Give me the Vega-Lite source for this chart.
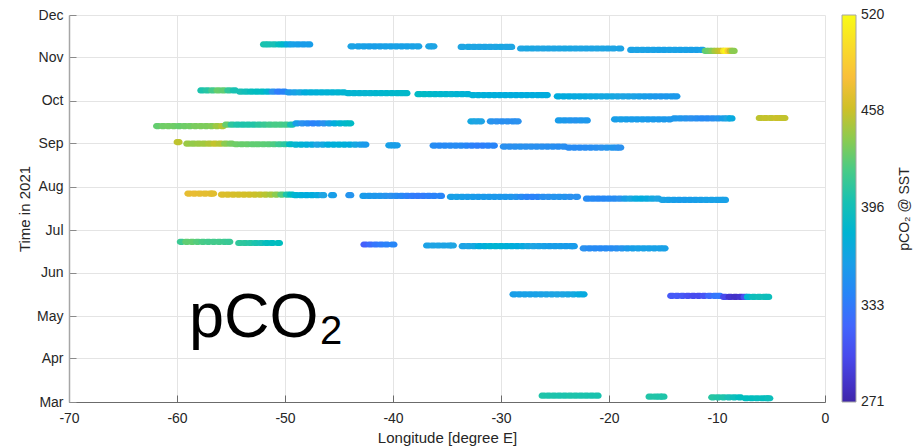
{
  "$schema": "https://vega.github.io/schema/vega-lite/v6.json",
  "width": 756,
  "height": 387,
  "autosize": {"type": "none"},
  "padding": {"left": 69, "top": 15, "right": 89, "bottom": 46},
  "config": {
    "view": {"stroke": null},
    "font": "Liberation Sans",
    "axis": {
      "labelFont": "Liberation Sans", "labelFontSize": 14, "labelColor": "#262626",
      "titleFont": "Liberation Sans", "titleFontSize": 15, "titleFontWeight": "normal", "titleColor": "#262626",
      "gridColor": "#e4e4e4", "gridWidth": 1
    },
    "legend": {"labelFont": "Liberation Sans", "titleFont": "Liberation Sans"}
  },
  "layer": [
    {
      "data": {"values": [
        {"lon":-51.9,"t":"2021-11-10T02:00","pco2":402},{"lon":-51.5,"t":"2021-11-10T02:00","pco2":400},{"lon":-51.0,"t":"2021-11-10T02:00","pco2":398},{"lon":-50.5,"t":"2021-11-10T02:00","pco2":394},{"lon":-50.1,"t":"2021-11-10T02:00","pco2":385},{"lon":-49.7,"t":"2021-11-10T02:00","pco2":370},{"lon":-49.3,"t":"2021-11-10T02:00","pco2":362},{"lon":-48.8,"t":"2021-11-10T02:00","pco2":360},{"lon":-48.3,"t":"2021-11-10T02:00","pco2":358},{"lon":-47.8,"t":"2021-11-10T02:00","pco2":359},
        {"lon":-43.8,"t":"2021-11-08T17:00","pco2":364},{"lon":-43.2,"t":"2021-11-08T17:00","pco2":362},{"lon":-42.7,"t":"2021-11-08T17:00","pco2":362},{"lon":-42.2,"t":"2021-11-08T17:00","pco2":361},{"lon":-41.7,"t":"2021-11-08T17:00","pco2":360},{"lon":-41.2,"t":"2021-11-08T17:00","pco2":361},{"lon":-40.7,"t":"2021-11-08T17:00","pco2":362},{"lon":-40.2,"t":"2021-11-08T17:00","pco2":362},{"lon":-39.7,"t":"2021-11-08T17:00","pco2":363},{"lon":-39.2,"t":"2021-11-08T17:00","pco2":362},{"lon":-38.7,"t":"2021-11-08T17:00","pco2":362},{"lon":-38.2,"t":"2021-11-08T17:00","pco2":363},{"lon":-37.7,"t":"2021-11-08T17:00","pco2":364},
        {"lon":-36.6,"t":"2021-11-08T17:00","pco2":365},{"lon":-36.3,"t":"2021-11-08T17:00","pco2":365},
        {"lon":-33.6,"t":"2021-11-08T07:00","pco2":366},{"lon":-33.0,"t":"2021-11-08T07:00","pco2":367},{"lon":-32.5,"t":"2021-11-08T07:00","pco2":366},{"lon":-32.0,"t":"2021-11-08T07:00","pco2":366},{"lon":-31.5,"t":"2021-11-08T07:00","pco2":365},{"lon":-31.0,"t":"2021-11-08T07:00","pco2":366},{"lon":-30.5,"t":"2021-11-08T07:00","pco2":366},{"lon":-30.0,"t":"2021-11-08T07:00","pco2":367},{"lon":-29.5,"t":"2021-11-08T07:00","pco2":366},{"lon":-29.1,"t":"2021-11-08T07:00","pco2":366},
        {"lon":-28.1,"t":"2021-11-07T05:00","pco2":366},{"lon":-27.6,"t":"2021-11-07T05:00","pco2":367},{"lon":-27.1,"t":"2021-11-07T05:00","pco2":367},{"lon":-26.6,"t":"2021-11-07T05:00","pco2":366},{"lon":-26.1,"t":"2021-11-07T05:00","pco2":366},{"lon":-25.6,"t":"2021-11-07T05:00","pco2":365},{"lon":-25.1,"t":"2021-11-07T05:00","pco2":366},{"lon":-24.6,"t":"2021-11-07T05:00","pco2":366},{"lon":-24.1,"t":"2021-11-07T05:00","pco2":367},{"lon":-23.6,"t":"2021-11-07T05:00","pco2":367},{"lon":-23.1,"t":"2021-11-07T05:00","pco2":366},{"lon":-22.6,"t":"2021-11-07T05:00","pco2":366},{"lon":-22.1,"t":"2021-11-07T05:00","pco2":365},{"lon":-21.6,"t":"2021-11-07T05:00","pco2":365},{"lon":-21.1,"t":"2021-11-07T05:00","pco2":366},{"lon":-20.6,"t":"2021-11-07T05:00","pco2":366},{"lon":-20.1,"t":"2021-11-07T05:00","pco2":365},{"lon":-19.6,"t":"2021-11-07T05:00","pco2":365},{"lon":-19.0,"t":"2021-11-07T05:00","pco2":364},
        {"lon":-17.9,"t":"2021-11-06T05:00","pco2":363},{"lon":-17.4,"t":"2021-11-06T05:00","pco2":364},{"lon":-16.9,"t":"2021-11-06T05:00","pco2":364},{"lon":-16.4,"t":"2021-11-06T05:00","pco2":363},{"lon":-15.9,"t":"2021-11-06T05:00","pco2":363},{"lon":-15.4,"t":"2021-11-06T05:00","pco2":362},{"lon":-14.9,"t":"2021-11-06T05:00","pco2":362},{"lon":-14.4,"t":"2021-11-06T05:00","pco2":363},{"lon":-13.9,"t":"2021-11-06T05:00","pco2":363},{"lon":-13.4,"t":"2021-11-06T05:00","pco2":362},{"lon":-12.9,"t":"2021-11-06T05:00","pco2":362},{"lon":-12.4,"t":"2021-11-06T05:00","pco2":361},{"lon":-11.9,"t":"2021-11-06T05:00","pco2":361},{"lon":-11.4,"t":"2021-11-06T05:00","pco2":362},
        {"lon":-11.0,"t":"2021-11-05T12:00","pco2":428},{"lon":-10.7,"t":"2021-11-05T12:00","pco2":432},{"lon":-10.4,"t":"2021-11-05T12:00","pco2":438},{"lon":-10.1,"t":"2021-11-05T12:00","pco2":448},{"lon":-9.8,"t":"2021-11-05T12:00","pco2":455},{"lon":-9.5,"t":"2021-11-05T12:00","pco2":462},{"lon":-9.3,"t":"2021-11-05T12:00","pco2":505},{"lon":-9.1,"t":"2021-11-05T12:00","pco2":518},{"lon":-8.9,"t":"2021-11-05T12:00","pco2":490},{"lon":-8.7,"t":"2021-11-05T12:00","pco2":460},{"lon":-8.5,"t":"2021-11-05T12:00","pco2":440},

        {"lon":-57.7,"t":"2021-10-08T10:00","pco2":403},{"lon":-57.2,"t":"2021-10-08T10:00","pco2":408},{"lon":-56.7,"t":"2021-10-08T10:00","pco2":418},{"lon":-56.2,"t":"2021-10-08T10:00","pco2":430},{"lon":-55.7,"t":"2021-10-08T10:00","pco2":428},{"lon":-55.2,"t":"2021-10-08T10:00","pco2":412},{"lon":-54.7,"t":"2021-10-08T10:00","pco2":400},
        {"lon":-54.1,"t":"2021-10-07T12:00","pco2":398},{"lon":-53.6,"t":"2021-10-07T12:00","pco2":396},{"lon":-53.1,"t":"2021-10-07T12:00","pco2":394},{"lon":-52.6,"t":"2021-10-07T12:00","pco2":392},{"lon":-52.1,"t":"2021-10-07T12:00","pco2":390},{"lon":-51.6,"t":"2021-10-07T12:00","pco2":380},{"lon":-51.1,"t":"2021-10-07T12:00","pco2":350},{"lon":-50.6,"t":"2021-10-07T12:00","pco2":335},{"lon":-50.1,"t":"2021-10-07T12:00","pco2":340},
        {"lon":-49.6,"t":"2021-10-07T00:00","pco2":355},{"lon":-49.1,"t":"2021-10-07T00:00","pco2":362},{"lon":-48.6,"t":"2021-10-07T00:00","pco2":368},{"lon":-48.1,"t":"2021-10-07T00:00","pco2":372},{"lon":-47.6,"t":"2021-10-07T00:00","pco2":375},{"lon":-47.1,"t":"2021-10-07T00:00","pco2":376},{"lon":-46.6,"t":"2021-10-07T00:00","pco2":377},{"lon":-46.1,"t":"2021-10-07T00:00","pco2":378},{"lon":-45.6,"t":"2021-10-07T00:00","pco2":378},{"lon":-45.1,"t":"2021-10-07T00:00","pco2":380},{"lon":-44.6,"t":"2021-10-07T00:00","pco2":380},
        {"lon":-44.1,"t":"2021-10-06T10:00","pco2":380},{"lon":-43.6,"t":"2021-10-06T10:00","pco2":381},{"lon":-43.1,"t":"2021-10-06T10:00","pco2":381},{"lon":-42.6,"t":"2021-10-06T10:00","pco2":382},{"lon":-42.1,"t":"2021-10-06T10:00","pco2":382},{"lon":-41.6,"t":"2021-10-06T10:00","pco2":383},{"lon":-41.1,"t":"2021-10-06T10:00","pco2":383},{"lon":-40.6,"t":"2021-10-06T10:00","pco2":384},{"lon":-40.1,"t":"2021-10-06T10:00","pco2":385},{"lon":-39.6,"t":"2021-10-06T10:00","pco2":385},{"lon":-39.2,"t":"2021-10-06T10:00","pco2":386},{"lon":-38.8,"t":"2021-10-06T10:00","pco2":386},
        {"lon":-37.6,"t":"2021-10-05T18:00","pco2":389},{"lon":-37.1,"t":"2021-10-05T18:00","pco2":389},{"lon":-36.6,"t":"2021-10-05T18:00","pco2":387},{"lon":-36.1,"t":"2021-10-05T18:00","pco2":385},{"lon":-35.6,"t":"2021-10-05T18:00","pco2":384},{"lon":-35.1,"t":"2021-10-05T18:00","pco2":383},{"lon":-34.6,"t":"2021-10-05T18:00","pco2":382},{"lon":-34.1,"t":"2021-10-05T18:00","pco2":380},{"lon":-33.6,"t":"2021-10-05T18:00","pco2":379},{"lon":-33.1,"t":"2021-10-05T18:00","pco2":378},
        {"lon":-32.6,"t":"2021-10-05T02:00","pco2":377},{"lon":-32.1,"t":"2021-10-05T02:00","pco2":376},{"lon":-31.6,"t":"2021-10-05T02:00","pco2":375},{"lon":-31.1,"t":"2021-10-05T02:00","pco2":374},{"lon":-30.6,"t":"2021-10-05T02:00","pco2":374},{"lon":-30.1,"t":"2021-10-05T02:00","pco2":373},{"lon":-29.6,"t":"2021-10-05T02:00","pco2":373},{"lon":-29.1,"t":"2021-10-05T02:00","pco2":373},{"lon":-28.6,"t":"2021-10-05T02:00","pco2":372},{"lon":-28.1,"t":"2021-10-05T02:00","pco2":372},{"lon":-27.6,"t":"2021-10-05T02:00","pco2":372},{"lon":-27.1,"t":"2021-10-05T02:00","pco2":372},{"lon":-26.6,"t":"2021-10-05T02:00","pco2":372},{"lon":-26.2,"t":"2021-10-05T02:00","pco2":372},{"lon":-25.8,"t":"2021-10-05T02:00","pco2":372},
        {"lon":-24.7,"t":"2021-10-04T05:00","pco2":372},{"lon":-24.2,"t":"2021-10-04T05:00","pco2":371},{"lon":-23.7,"t":"2021-10-04T05:00","pco2":371},{"lon":-23.2,"t":"2021-10-04T05:00","pco2":370},{"lon":-22.7,"t":"2021-10-04T05:00","pco2":370},{"lon":-22.2,"t":"2021-10-04T05:00","pco2":370},{"lon":-21.7,"t":"2021-10-04T05:00","pco2":369},{"lon":-21.2,"t":"2021-10-04T05:00","pco2":369},{"lon":-20.7,"t":"2021-10-04T05:00","pco2":368},{"lon":-20.2,"t":"2021-10-04T05:00","pco2":368},{"lon":-19.7,"t":"2021-10-04T05:00","pco2":368},{"lon":-19.2,"t":"2021-10-04T05:00","pco2":367},{"lon":-18.7,"t":"2021-10-04T05:00","pco2":366},{"lon":-18.2,"t":"2021-10-04T05:00","pco2":365},{"lon":-17.7,"t":"2021-10-04T05:00","pco2":364},{"lon":-17.2,"t":"2021-10-04T05:00","pco2":362},{"lon":-16.7,"t":"2021-10-04T05:00","pco2":360},{"lon":-16.2,"t":"2021-10-04T05:00","pco2":358},{"lon":-15.7,"t":"2021-10-04T05:00","pco2":356},{"lon":-15.2,"t":"2021-10-04T05:00","pco2":355},{"lon":-14.7,"t":"2021-10-04T05:00","pco2":355},{"lon":-14.2,"t":"2021-10-04T05:00","pco2":356},{"lon":-13.8,"t":"2021-10-04T05:00","pco2":356},

        {"lon":-61.8,"t":"2021-09-13T02:00","pco2":429},{"lon":-61.3,"t":"2021-09-13T02:00","pco2":432},{"lon":-60.8,"t":"2021-09-13T02:00","pco2":433},{"lon":-60.3,"t":"2021-09-13T02:00","pco2":432},{"lon":-59.8,"t":"2021-09-13T02:00","pco2":430},{"lon":-59.3,"t":"2021-09-13T02:00","pco2":432},{"lon":-58.8,"t":"2021-09-13T02:00","pco2":433},{"lon":-58.3,"t":"2021-09-13T02:00","pco2":435},{"lon":-57.8,"t":"2021-09-13T02:00","pco2":436},{"lon":-57.3,"t":"2021-09-13T02:00","pco2":436},{"lon":-56.8,"t":"2021-09-13T02:00","pco2":438},{"lon":-56.3,"t":"2021-09-13T02:00","pco2":445},{"lon":-55.8,"t":"2021-09-13T02:00","pco2":452},
        {"lon":-55.4,"t":"2021-09-14T02:00","pco2":430},{"lon":-54.9,"t":"2021-09-14T02:00","pco2":410},{"lon":-54.4,"t":"2021-09-14T02:00","pco2":405},{"lon":-53.9,"t":"2021-09-14T02:00","pco2":404},{"lon":-53.4,"t":"2021-09-14T02:00","pco2":405},{"lon":-52.9,"t":"2021-09-14T02:00","pco2":406},{"lon":-52.4,"t":"2021-09-14T02:00","pco2":410},{"lon":-51.9,"t":"2021-09-14T02:00","pco2":414},{"lon":-51.4,"t":"2021-09-14T02:00","pco2":418},{"lon":-50.9,"t":"2021-09-14T02:00","pco2":420},{"lon":-50.4,"t":"2021-09-14T02:00","pco2":420},{"lon":-49.9,"t":"2021-09-14T02:00","pco2":418},{"lon":-49.4,"t":"2021-09-14T02:00","pco2":400},
        {"lon":-48.9,"t":"2021-09-15T00:00","pco2":360},{"lon":-48.4,"t":"2021-09-15T00:00","pco2":350},{"lon":-47.9,"t":"2021-09-15T00:00","pco2":345},{"lon":-47.4,"t":"2021-09-15T00:00","pco2":338},{"lon":-46.9,"t":"2021-09-15T00:00","pco2":342},{"lon":-46.4,"t":"2021-09-15T00:00","pco2":350},{"lon":-45.9,"t":"2021-09-15T00:00","pco2":360},{"lon":-45.4,"t":"2021-09-15T00:00","pco2":372},{"lon":-44.9,"t":"2021-09-15T00:00","pco2":380},{"lon":-44.4,"t":"2021-09-15T00:00","pco2":385},{"lon":-44.0,"t":"2021-09-15T00:00","pco2":389},
        {"lon":-32.7,"t":"2021-09-16T10:00","pco2":368},{"lon":-32.3,"t":"2021-09-16T10:00","pco2":366},{"lon":-31.9,"t":"2021-09-16T10:00","pco2":365},
        {"lon":-30.9,"t":"2021-09-16T10:00","pco2":352},{"lon":-30.4,"t":"2021-09-16T10:00","pco2":350},{"lon":-29.9,"t":"2021-09-16T10:00","pco2":348},{"lon":-29.4,"t":"2021-09-16T10:00","pco2":349},{"lon":-28.9,"t":"2021-09-16T10:00","pco2":348},{"lon":-28.5,"t":"2021-09-16T10:00","pco2":350},
        {"lon":-24.6,"t":"2021-09-17T02:00","pco2":358},{"lon":-24.1,"t":"2021-09-17T02:00","pco2":356},{"lon":-23.6,"t":"2021-09-17T02:00","pco2":354},{"lon":-23.1,"t":"2021-09-17T02:00","pco2":352},{"lon":-22.6,"t":"2021-09-17T02:00","pco2":354},{"lon":-22.1,"t":"2021-09-17T02:00","pco2":355},
        {"lon":-19.4,"t":"2021-09-17T21:00","pco2":360},{"lon":-18.9,"t":"2021-09-17T21:00","pco2":361},{"lon":-18.4,"t":"2021-09-17T21:00","pco2":360},{"lon":-17.9,"t":"2021-09-17T21:00","pco2":358},{"lon":-17.4,"t":"2021-09-17T21:00","pco2":358},{"lon":-16.9,"t":"2021-09-17T21:00","pco2":358},{"lon":-16.4,"t":"2021-09-17T21:00","pco2":357},{"lon":-15.9,"t":"2021-09-17T21:00","pco2":357},{"lon":-15.4,"t":"2021-09-17T21:00","pco2":356},{"lon":-14.9,"t":"2021-09-17T21:00","pco2":356},{"lon":-14.4,"t":"2021-09-17T21:00","pco2":355},
        {"lon":-13.9,"t":"2021-09-18T12:00","pco2":355},{"lon":-13.4,"t":"2021-09-18T12:00","pco2":354},{"lon":-12.9,"t":"2021-09-18T12:00","pco2":352},{"lon":-12.4,"t":"2021-09-18T12:00","pco2":350},{"lon":-11.9,"t":"2021-09-18T12:00","pco2":348},{"lon":-11.4,"t":"2021-09-18T12:00","pco2":345},{"lon":-10.9,"t":"2021-09-18T12:00","pco2":345},{"lon":-10.4,"t":"2021-09-18T12:00","pco2":348},{"lon":-9.9,"t":"2021-09-18T12:00","pco2":352},{"lon":-9.4,"t":"2021-09-18T12:00","pco2":360},{"lon":-9.0,"t":"2021-09-18T12:00","pco2":366},{"lon":-8.7,"t":"2021-09-18T12:00","pco2":370},
        {"lon":-6.0,"t":"2021-09-18T19:00","pco2":455},{"lon":-5.5,"t":"2021-09-18T19:00","pco2":457},{"lon":-5.0,"t":"2021-09-18T19:00","pco2":456},{"lon":-4.5,"t":"2021-09-18T19:00","pco2":459},{"lon":-4.1,"t":"2021-09-18T19:00","pco2":458},{"lon":-3.8,"t":"2021-09-18T19:00","pco2":456},

        {"lon":-59.9,"t":"2021-09-01T17:00","pco2":455},
        {"lon":-59.0,"t":"2021-08-31T14:00","pco2":444},{"lon":-58.5,"t":"2021-08-31T14:00","pco2":442},{"lon":-58.0,"t":"2021-08-31T14:00","pco2":444},{"lon":-57.5,"t":"2021-08-31T14:00","pco2":446},{"lon":-57.0,"t":"2021-08-31T14:00","pco2":450},{"lon":-56.5,"t":"2021-08-31T14:00","pco2":456},{"lon":-56.0,"t":"2021-08-31T14:00","pco2":452},{"lon":-55.5,"t":"2021-08-31T14:00","pco2":440},{"lon":-55.0,"t":"2021-08-31T14:00","pco2":434},
        {"lon":-54.5,"t":"2021-08-31T04:00","pco2":432},{"lon":-54.0,"t":"2021-08-31T04:00","pco2":430},{"lon":-53.5,"t":"2021-08-31T04:00","pco2":430},{"lon":-53.0,"t":"2021-08-31T04:00","pco2":428},{"lon":-52.5,"t":"2021-08-31T04:00","pco2":428},{"lon":-52.0,"t":"2021-08-31T04:00","pco2":427},{"lon":-51.5,"t":"2021-08-31T04:00","pco2":426},{"lon":-51.0,"t":"2021-08-31T04:00","pco2":422},{"lon":-50.5,"t":"2021-08-31T04:00","pco2":415},{"lon":-50.0,"t":"2021-08-31T04:00","pco2":410},{"lon":-49.5,"t":"2021-08-31T04:00","pco2":390},
        {"lon":-49.0,"t":"2021-08-30T22:00","pco2":382},{"lon":-48.5,"t":"2021-08-30T22:00","pco2":378},{"lon":-48.0,"t":"2021-08-30T22:00","pco2":375},{"lon":-47.5,"t":"2021-08-30T22:00","pco2":370},{"lon":-47.0,"t":"2021-08-30T22:00","pco2":366},{"lon":-46.5,"t":"2021-08-30T22:00","pco2":368},{"lon":-46.0,"t":"2021-08-30T22:00","pco2":372},{"lon":-45.5,"t":"2021-08-30T22:00","pco2":375},{"lon":-45.0,"t":"2021-08-30T22:00","pco2":376},{"lon":-44.5,"t":"2021-08-30T22:00","pco2":375},{"lon":-44.0,"t":"2021-08-30T22:00","pco2":372},{"lon":-43.5,"t":"2021-08-30T22:00","pco2":368},{"lon":-43.0,"t":"2021-08-30T22:00","pco2":362},{"lon":-42.6,"t":"2021-08-30T22:00","pco2":357},
        {"lon":-40.3,"t":"2021-08-30T10:00","pco2":362},{"lon":-40.0,"t":"2021-08-30T10:00","pco2":361},{"lon":-39.7,"t":"2021-08-30T10:00","pco2":360},
        {"lon":-36.2,"t":"2021-08-30T05:00","pco2":347},{"lon":-35.7,"t":"2021-08-30T05:00","pco2":344},{"lon":-35.2,"t":"2021-08-30T05:00","pco2":344},{"lon":-34.7,"t":"2021-08-30T05:00","pco2":345},{"lon":-34.2,"t":"2021-08-30T05:00","pco2":346},{"lon":-33.7,"t":"2021-08-30T05:00","pco2":345},{"lon":-33.2,"t":"2021-08-30T05:00","pco2":342},{"lon":-32.7,"t":"2021-08-30T05:00","pco2":338},{"lon":-32.2,"t":"2021-08-30T05:00","pco2":336},{"lon":-31.7,"t":"2021-08-30T05:00","pco2":336},{"lon":-31.2,"t":"2021-08-30T05:00","pco2":338},{"lon":-30.7,"t":"2021-08-30T05:00","pco2":340},
        {"lon":-29.7,"t":"2021-08-29T12:00","pco2":350},{"lon":-29.2,"t":"2021-08-29T12:00","pco2":349},{"lon":-28.7,"t":"2021-08-29T12:00","pco2":350},{"lon":-28.2,"t":"2021-08-29T12:00","pco2":351},{"lon":-27.7,"t":"2021-08-29T12:00","pco2":350},{"lon":-27.2,"t":"2021-08-29T12:00","pco2":350},{"lon":-26.7,"t":"2021-08-29T12:00","pco2":349},{"lon":-26.2,"t":"2021-08-29T12:00","pco2":349},{"lon":-25.7,"t":"2021-08-29T12:00","pco2":348},{"lon":-25.2,"t":"2021-08-29T12:00","pco2":348},{"lon":-24.7,"t":"2021-08-29T12:00","pco2":347},{"lon":-24.2,"t":"2021-08-29T12:00","pco2":348},
        {"lon":-23.7,"t":"2021-08-28T19:00","pco2":346},{"lon":-23.2,"t":"2021-08-28T19:00","pco2":345},{"lon":-22.7,"t":"2021-08-28T19:00","pco2":345},{"lon":-22.2,"t":"2021-08-28T19:00","pco2":346},{"lon":-21.7,"t":"2021-08-28T19:00","pco2":347},{"lon":-21.2,"t":"2021-08-28T19:00","pco2":348},{"lon":-20.7,"t":"2021-08-28T19:00","pco2":350},{"lon":-20.2,"t":"2021-08-28T19:00","pco2":352},{"lon":-19.7,"t":"2021-08-28T19:00","pco2":353},{"lon":-19.3,"t":"2021-08-28T19:00","pco2":352},{"lon":-19.0,"t":"2021-08-28T19:00","pco2":350},

        {"lon":-58.9,"t":"2021-07-27T02:00","pco2":469},{"lon":-58.4,"t":"2021-07-27T02:00","pco2":470},{"lon":-57.9,"t":"2021-07-27T02:00","pco2":469},{"lon":-57.4,"t":"2021-07-27T02:00","pco2":468},{"lon":-56.9,"t":"2021-07-27T02:00","pco2":468},{"lon":-56.7,"t":"2021-07-27T02:00","pco2":467},
        {"lon":-55.8,"t":"2021-07-26T10:00","pco2":465},{"lon":-55.3,"t":"2021-07-26T10:00","pco2":464},{"lon":-54.8,"t":"2021-07-26T10:00","pco2":463},{"lon":-54.3,"t":"2021-07-26T10:00","pco2":462},{"lon":-53.8,"t":"2021-07-26T10:00","pco2":462},{"lon":-53.3,"t":"2021-07-26T10:00","pco2":461},{"lon":-52.8,"t":"2021-07-26T10:00","pco2":459},{"lon":-52.3,"t":"2021-07-26T10:00","pco2":457},{"lon":-51.8,"t":"2021-07-26T10:00","pco2":453},{"lon":-51.3,"t":"2021-07-26T10:00","pco2":448},{"lon":-50.8,"t":"2021-07-26T10:00","pco2":440},{"lon":-50.3,"t":"2021-07-26T10:00","pco2":425},{"lon":-49.8,"t":"2021-07-26T10:00","pco2":405},{"lon":-49.4,"t":"2021-07-26T10:00","pco2":392},
        {"lon":-49.0,"t":"2021-07-26T00:00","pco2":380},{"lon":-48.5,"t":"2021-07-26T00:00","pco2":375},{"lon":-48.0,"t":"2021-07-26T00:00","pco2":372},{"lon":-47.5,"t":"2021-07-26T00:00","pco2":372},{"lon":-47.0,"t":"2021-07-26T00:00","pco2":370},{"lon":-46.5,"t":"2021-07-26T00:00","pco2":366},
        {"lon":-45.6,"t":"2021-07-26T00:00","pco2":360},
        {"lon":-44.0,"t":"2021-07-26T00:00","pco2":352},
        {"lon":-42.7,"t":"2021-07-25T10:00","pco2":358},{"lon":-42.2,"t":"2021-07-25T10:00","pco2":356},{"lon":-41.7,"t":"2021-07-25T10:00","pco2":355},{"lon":-41.2,"t":"2021-07-25T10:00","pco2":354},{"lon":-40.7,"t":"2021-07-25T10:00","pco2":352},{"lon":-40.2,"t":"2021-07-25T10:00","pco2":350},{"lon":-39.7,"t":"2021-07-25T10:00","pco2":347},{"lon":-39.2,"t":"2021-07-25T10:00","pco2":343},{"lon":-38.7,"t":"2021-07-25T10:00","pco2":338},{"lon":-38.2,"t":"2021-07-25T10:00","pco2":335},{"lon":-37.7,"t":"2021-07-25T10:00","pco2":333},{"lon":-37.2,"t":"2021-07-25T10:00","pco2":334},{"lon":-36.7,"t":"2021-07-25T10:00","pco2":336},{"lon":-36.2,"t":"2021-07-25T10:00","pco2":338},{"lon":-35.6,"t":"2021-07-25T10:00","pco2":340},
        {"lon":-34.6,"t":"2021-07-24T19:00","pco2":361},{"lon":-34.1,"t":"2021-07-24T19:00","pco2":362},{"lon":-33.6,"t":"2021-07-24T19:00","pco2":360},{"lon":-33.1,"t":"2021-07-24T19:00","pco2":358},{"lon":-32.6,"t":"2021-07-24T19:00","pco2":358},{"lon":-32.1,"t":"2021-07-24T19:00","pco2":357},{"lon":-31.6,"t":"2021-07-24T19:00","pco2":357},{"lon":-31.1,"t":"2021-07-24T19:00","pco2":356},{"lon":-30.6,"t":"2021-07-24T19:00","pco2":356},{"lon":-30.1,"t":"2021-07-24T19:00","pco2":355},{"lon":-29.6,"t":"2021-07-24T19:00","pco2":355},{"lon":-29.1,"t":"2021-07-24T19:00","pco2":354},{"lon":-28.6,"t":"2021-07-24T19:00","pco2":352},{"lon":-28.1,"t":"2021-07-24T19:00","pco2":345},{"lon":-27.6,"t":"2021-07-24T19:00","pco2":340},{"lon":-27.1,"t":"2021-07-24T19:00","pco2":338},{"lon":-26.6,"t":"2021-07-24T19:00","pco2":340},{"lon":-26.1,"t":"2021-07-24T19:00","pco2":348},{"lon":-25.6,"t":"2021-07-24T19:00","pco2":350},{"lon":-25.1,"t":"2021-07-24T19:00","pco2":352},{"lon":-24.6,"t":"2021-07-24T19:00","pco2":352},{"lon":-24.1,"t":"2021-07-24T19:00","pco2":352},{"lon":-23.6,"t":"2021-07-24T19:00","pco2":350},{"lon":-23.0,"t":"2021-07-24T19:00","pco2":350},
        {"lon":-22.0,"t":"2021-07-23T12:00","pco2":345},{"lon":-21.5,"t":"2021-07-23T12:00","pco2":344},{"lon":-21.0,"t":"2021-07-23T12:00","pco2":343},{"lon":-20.5,"t":"2021-07-23T12:00","pco2":343},{"lon":-20.0,"t":"2021-07-23T12:00","pco2":344},{"lon":-19.5,"t":"2021-07-23T12:00","pco2":346},{"lon":-19.0,"t":"2021-07-23T12:00","pco2":350},{"lon":-18.5,"t":"2021-07-23T12:00","pco2":360},{"lon":-18.0,"t":"2021-07-23T12:00","pco2":367},{"lon":-17.5,"t":"2021-07-23T12:00","pco2":370},{"lon":-17.0,"t":"2021-07-23T12:00","pco2":371},{"lon":-16.5,"t":"2021-07-23T12:00","pco2":370},{"lon":-16.0,"t":"2021-07-23T12:00","pco2":368},{"lon":-15.5,"t":"2021-07-23T12:00","pco2":366},
        {"lon":-15.0,"t":"2021-07-22T14:00","pco2":364},{"lon":-14.5,"t":"2021-07-22T14:00","pco2":362},{"lon":-14.0,"t":"2021-07-22T14:00","pco2":360},{"lon":-13.5,"t":"2021-07-22T14:00","pco2":358},{"lon":-13.0,"t":"2021-07-22T14:00","pco2":358},{"lon":-12.5,"t":"2021-07-22T14:00","pco2":359},{"lon":-12.0,"t":"2021-07-22T14:00","pco2":360},{"lon":-11.5,"t":"2021-07-22T14:00","pco2":361},{"lon":-11.0,"t":"2021-07-22T14:00","pco2":362},{"lon":-10.5,"t":"2021-07-22T14:00","pco2":362},{"lon":-10.0,"t":"2021-07-22T14:00","pco2":362},{"lon":-9.6,"t":"2021-07-22T14:00","pco2":362},{"lon":-9.3,"t":"2021-07-22T14:00","pco2":362},

        {"lon":-59.6,"t":"2021-06-22T19:00","pco2":415},{"lon":-59.1,"t":"2021-06-22T19:00","pco2":428},{"lon":-58.6,"t":"2021-06-22T19:00","pco2":428},{"lon":-58.1,"t":"2021-06-22T19:00","pco2":424},{"lon":-57.6,"t":"2021-06-22T19:00","pco2":420},{"lon":-57.1,"t":"2021-06-22T19:00","pco2":418},{"lon":-56.6,"t":"2021-06-22T19:00","pco2":418},{"lon":-56.1,"t":"2021-06-22T19:00","pco2":418},{"lon":-55.6,"t":"2021-06-22T19:00","pco2":416},{"lon":-55.2,"t":"2021-06-22T19:00","pco2":414},
        {"lon":-54.2,"t":"2021-06-22T00:00","pco2":411},{"lon":-53.7,"t":"2021-06-22T00:00","pco2":410},{"lon":-53.2,"t":"2021-06-22T00:00","pco2":408},{"lon":-52.7,"t":"2021-06-22T00:00","pco2":403},{"lon":-52.2,"t":"2021-06-22T00:00","pco2":398},{"lon":-51.7,"t":"2021-06-22T00:00","pco2":394},{"lon":-51.2,"t":"2021-06-22T00:00","pco2":392},{"lon":-50.6,"t":"2021-06-22T00:00","pco2":393},
        {"lon":-42.6,"t":"2021-06-20T22:00","pco2":316},{"lon":-42.1,"t":"2021-06-20T22:00","pco2":324},{"lon":-41.6,"t":"2021-06-20T22:00","pco2":330},{"lon":-41.1,"t":"2021-06-20T22:00","pco2":335},{"lon":-40.6,"t":"2021-06-20T22:00","pco2":338},{"lon":-40.0,"t":"2021-06-20T22:00","pco2":341},
        {"lon":-36.8,"t":"2021-06-20T05:00","pco2":363},{"lon":-36.3,"t":"2021-06-20T05:00","pco2":365},{"lon":-35.8,"t":"2021-06-20T05:00","pco2":365},{"lon":-35.3,"t":"2021-06-20T05:00","pco2":365},{"lon":-34.8,"t":"2021-06-20T05:00","pco2":365},{"lon":-34.5,"t":"2021-06-20T05:00","pco2":366},
        {"lon":-33.5,"t":"2021-06-19T18:00","pco2":364},{"lon":-33.0,"t":"2021-06-19T18:00","pco2":365},{"lon":-32.5,"t":"2021-06-19T18:00","pco2":368},{"lon":-32.0,"t":"2021-06-19T18:00","pco2":372},{"lon":-31.5,"t":"2021-06-19T18:00","pco2":375},{"lon":-31.0,"t":"2021-06-19T18:00","pco2":378},{"lon":-30.5,"t":"2021-06-19T18:00","pco2":380},{"lon":-30.0,"t":"2021-06-19T18:00","pco2":378},{"lon":-29.5,"t":"2021-06-19T18:00","pco2":376},{"lon":-29.0,"t":"2021-06-19T18:00","pco2":374},{"lon":-28.5,"t":"2021-06-19T18:00","pco2":372},{"lon":-28.0,"t":"2021-06-19T18:00","pco2":370},{"lon":-27.5,"t":"2021-06-19T18:00","pco2":368},{"lon":-27.0,"t":"2021-06-19T18:00","pco2":366},{"lon":-26.5,"t":"2021-06-19T18:00","pco2":364},{"lon":-26.0,"t":"2021-06-19T18:00","pco2":362},{"lon":-25.5,"t":"2021-06-19T18:00","pco2":360},{"lon":-25.0,"t":"2021-06-19T18:00","pco2":360},{"lon":-24.5,"t":"2021-06-19T18:00","pco2":360},{"lon":-24.0,"t":"2021-06-19T18:00","pco2":358},{"lon":-23.5,"t":"2021-06-19T18:00","pco2":358},{"lon":-23.3,"t":"2021-06-19T18:00","pco2":358},
        {"lon":-22.3,"t":"2021-06-18T05:00","pco2":350},{"lon":-21.8,"t":"2021-06-18T05:00","pco2":346},{"lon":-21.3,"t":"2021-06-18T05:00","pco2":345},{"lon":-20.8,"t":"2021-06-18T05:00","pco2":344},{"lon":-20.3,"t":"2021-06-18T05:00","pco2":345},{"lon":-19.8,"t":"2021-06-18T05:00","pco2":346},{"lon":-19.3,"t":"2021-06-18T05:00","pco2":348},{"lon":-18.8,"t":"2021-06-18T05:00","pco2":352},{"lon":-18.3,"t":"2021-06-18T05:00","pco2":356},{"lon":-17.8,"t":"2021-06-18T05:00","pco2":360},{"lon":-17.3,"t":"2021-06-18T05:00","pco2":362},{"lon":-16.8,"t":"2021-06-18T05:00","pco2":362},{"lon":-16.3,"t":"2021-06-18T05:00","pco2":362},{"lon":-15.8,"t":"2021-06-18T05:00","pco2":362},{"lon":-15.3,"t":"2021-06-18T05:00","pco2":362},{"lon":-14.9,"t":"2021-06-18T05:00","pco2":362},

        {"lon":-28.8,"t":"2021-05-16T12:00","pco2":360},{"lon":-28.3,"t":"2021-05-16T12:00","pco2":361},{"lon":-27.8,"t":"2021-05-16T12:00","pco2":362},{"lon":-27.3,"t":"2021-05-16T12:00","pco2":362},{"lon":-26.8,"t":"2021-05-16T12:00","pco2":362},{"lon":-26.3,"t":"2021-05-16T12:00","pco2":363},{"lon":-25.8,"t":"2021-05-16T12:00","pco2":364},{"lon":-25.3,"t":"2021-05-16T12:00","pco2":365},{"lon":-24.8,"t":"2021-05-16T12:00","pco2":366},{"lon":-24.3,"t":"2021-05-16T12:00","pco2":366},{"lon":-23.8,"t":"2021-05-16T12:00","pco2":367},{"lon":-23.3,"t":"2021-05-16T12:00","pco2":368},{"lon":-22.8,"t":"2021-05-16T12:00","pco2":370},{"lon":-22.4,"t":"2021-05-16T12:00","pco2":370},
        {"lon":-14.2,"t":"2021-05-15T10:00","pco2":311},{"lon":-13.7,"t":"2021-05-15T10:00","pco2":312},{"lon":-13.2,"t":"2021-05-15T10:00","pco2":310},{"lon":-12.7,"t":"2021-05-15T10:00","pco2":305},{"lon":-12.2,"t":"2021-05-15T10:00","pco2":302},{"lon":-11.7,"t":"2021-05-15T10:00","pco2":302},{"lon":-11.2,"t":"2021-05-15T10:00","pco2":308},{"lon":-10.7,"t":"2021-05-15T10:00","pco2":322},{"lon":-10.2,"t":"2021-05-15T10:00","pco2":330},{"lon":-9.8,"t":"2021-05-15T10:00","pco2":332},
        {"lon":-9.3,"t":"2021-05-14T16:00","pco2":300},{"lon":-8.8,"t":"2021-05-14T16:00","pco2":285},{"lon":-8.3,"t":"2021-05-14T16:00","pco2":282},{"lon":-7.8,"t":"2021-05-14T16:00","pco2":285},{"lon":-7.4,"t":"2021-05-14T16:00","pco2":305},{"lon":-7.1,"t":"2021-05-14T16:00","pco2":380},{"lon":-6.6,"t":"2021-05-14T16:00","pco2":395},{"lon":-6.1,"t":"2021-05-14T16:00","pco2":396},{"lon":-5.6,"t":"2021-05-14T16:00","pco2":396},{"lon":-5.3,"t":"2021-05-14T16:00","pco2":395},

        {"lon":-26.1,"t":"2021-03-05T12:00","pco2":405},{"lon":-25.6,"t":"2021-03-05T12:00","pco2":404},{"lon":-25.1,"t":"2021-03-05T12:00","pco2":404},{"lon":-24.6,"t":"2021-03-05T12:00","pco2":403},{"lon":-24.1,"t":"2021-03-05T12:00","pco2":403},{"lon":-23.6,"t":"2021-03-05T12:00","pco2":404},{"lon":-23.1,"t":"2021-03-05T12:00","pco2":404},{"lon":-22.6,"t":"2021-03-05T12:00","pco2":403},{"lon":-22.1,"t":"2021-03-05T12:00","pco2":403},{"lon":-21.6,"t":"2021-03-05T12:00","pco2":402},{"lon":-21.1,"t":"2021-03-05T12:00","pco2":402},
        {"lon":-16.2,"t":"2021-03-04T19:00","pco2":406},{"lon":-15.7,"t":"2021-03-04T19:00","pco2":406},{"lon":-15.3,"t":"2021-03-04T19:00","pco2":405},{"lon":-15.0,"t":"2021-03-04T19:00","pco2":405},
        {"lon":-10.4,"t":"2021-03-04T08:00","pco2":408},{"lon":-9.9,"t":"2021-03-04T08:00","pco2":406},{"lon":-9.4,"t":"2021-03-04T08:00","pco2":404},{"lon":-8.9,"t":"2021-03-04T08:00","pco2":398},{"lon":-8.4,"t":"2021-03-04T08:00","pco2":395},{"lon":-7.9,"t":"2021-03-04T08:00","pco2":393},
        {"lon":-7.3,"t":"2021-03-03T16:00","pco2":393},{"lon":-6.8,"t":"2021-03-03T16:00","pco2":393},{"lon":-6.3,"t":"2021-03-03T16:00","pco2":394},{"lon":-5.8,"t":"2021-03-03T16:00","pco2":394},{"lon":-5.4,"t":"2021-03-03T16:00","pco2":394},{"lon":-5.2,"t":"2021-03-03T16:00","pco2":395}
      ]},
      "mark": {
        "type": "point",
        "shape": "M-0.3,-0.65L0.3,-0.65A0.65,0.65,0,0,1,0.3,0.65L-0.3,0.65A0.65,0.65,0,0,1,-0.3,-0.65Z",
        "size": 91,
        "filled": true,
        "opacity": 1,
        "strokeWidth": 0
      },
      "encoding": {
        "x": {
          "field": "lon", "type": "quantitative",
          "scale": {"domain": [-70, 0], "nice": false, "zero": false},
          "axis": {
            "title": "Longitude [degree E]",
            "values": [-70, -60, -50, -40, -30, -20, -10, 0],
            "labelExpr": "datum.value + ''",
            "labelFlush": false,
            "grid": true,
            "tickSize": -7, "tickColor": "#6b6b6b",
            "labelPadding": 16,
            "domainColor": "#6b6b6b",
            "titlePadding": 5
          }
        },
        "y": {
          "field": "t", "type": "temporal",
          "scale": {"domain": [{"year": 2021, "month": 3, "date": 1}, {"year": 2021, "month": 12, "date": 1}], "nice": false},
          "axis": {
            "title": "Time in 2021",
            "values": [
              {"year": 2021, "month": 3, "date": 1}, {"year": 2021, "month": 4, "date": 1}, {"year": 2021, "month": 5, "date": 1},
              {"year": 2021, "month": 6, "date": 1}, {"year": 2021, "month": 7, "date": 1}, {"year": 2021, "month": 8, "date": 1},
              {"year": 2021, "month": 9, "date": 1}, {"year": 2021, "month": 10, "date": 1}, {"year": 2021, "month": 11, "date": 1},
              {"year": 2021, "month": 12, "date": 1}
            ],
            "format": "%b",
            "grid": true,
            "tickSize": -7, "tickColor": "#8a8a8a",
            "labelPadding": 13,
            "domainColor": "#a6a6a6", "domainWidth": 1.5,
            "titlePadding": 4
          }
        },
        "color": {
          "field": "pco2", "type": "quantitative",
          "scale": {
            "domain": [271, 286.8, 302.6, 318.4, 334.2, 350.0, 365.8, 381.7, 397.5, 413.3, 429.1, 444.9, 460.7, 476.5, 492.3, 508.1, 520],
            "range": ["#3e26a8", "#4537d5", "#484df0", "#4563fd", "#327cfc", "#2b91ef", "#20a5e3", "#08b5d0", "#19bfb6", "#37c897", "#64cd6f", "#9dc943", "#d1bf27", "#f8ba3d", "#fccf30", "#f5e924", "#f9fb15"],
            "clamp": true
          },
          "legend": {
            "title": "pCO₂ @ SST",
            "orient": "right",
            "offset": 17,
            "padding": 0,
            "direction": "vertical",
            "gradientLength": 387,
            "gradientThickness": 14,
            "gradientStrokeColor": "#a6a6a6",
            "gradientStrokeWidth": 1,
            "values": [271, 333, 396, 458, 520],
            "labelFontSize": 14,
            "labelColor": "#262626",
            "labelOffset": 5,
            "titleFontSize": 14,
            "titleFontWeight": "normal",
            "titleColor": "#262626",
            "titleOrient": "right",
            "titleAnchor": "middle",
            "titlePadding": 14,
            "titleBaseline": "top",
            "encoding": {
              "title": {"angle": {"value": -90}},
              "labels": {"baseline": {"value": "middle"}}
            }
          }
        }
      }
    },
    {
      "data": {"values": [{"lon": -58.9, "t": "2021-04-16T03:00", "label": "pCO"}]},
      "mark": {"type": "text", "fontSize": 63, "font": "Liberation Sans", "align": "left", "baseline": "alphabetic", "color": "#000000"},
      "encoding": {
        "x": {"field": "lon", "type": "quantitative"},
        "y": {"field": "t", "type": "temporal"},
        "text": {"field": "label"}
      }
    },
    {
      "data": {"values": [{"lon": -46.75, "t": "2021-04-11T04:00", "label": "2"}]},
      "mark": {"type": "text", "fontSize": 40, "font": "Liberation Sans", "align": "left", "baseline": "alphabetic", "color": "#000000"},
      "encoding": {
        "x": {"field": "lon", "type": "quantitative"},
        "y": {"field": "t", "type": "temporal"},
        "text": {"field": "label"}
      }
    }
  ]
}
